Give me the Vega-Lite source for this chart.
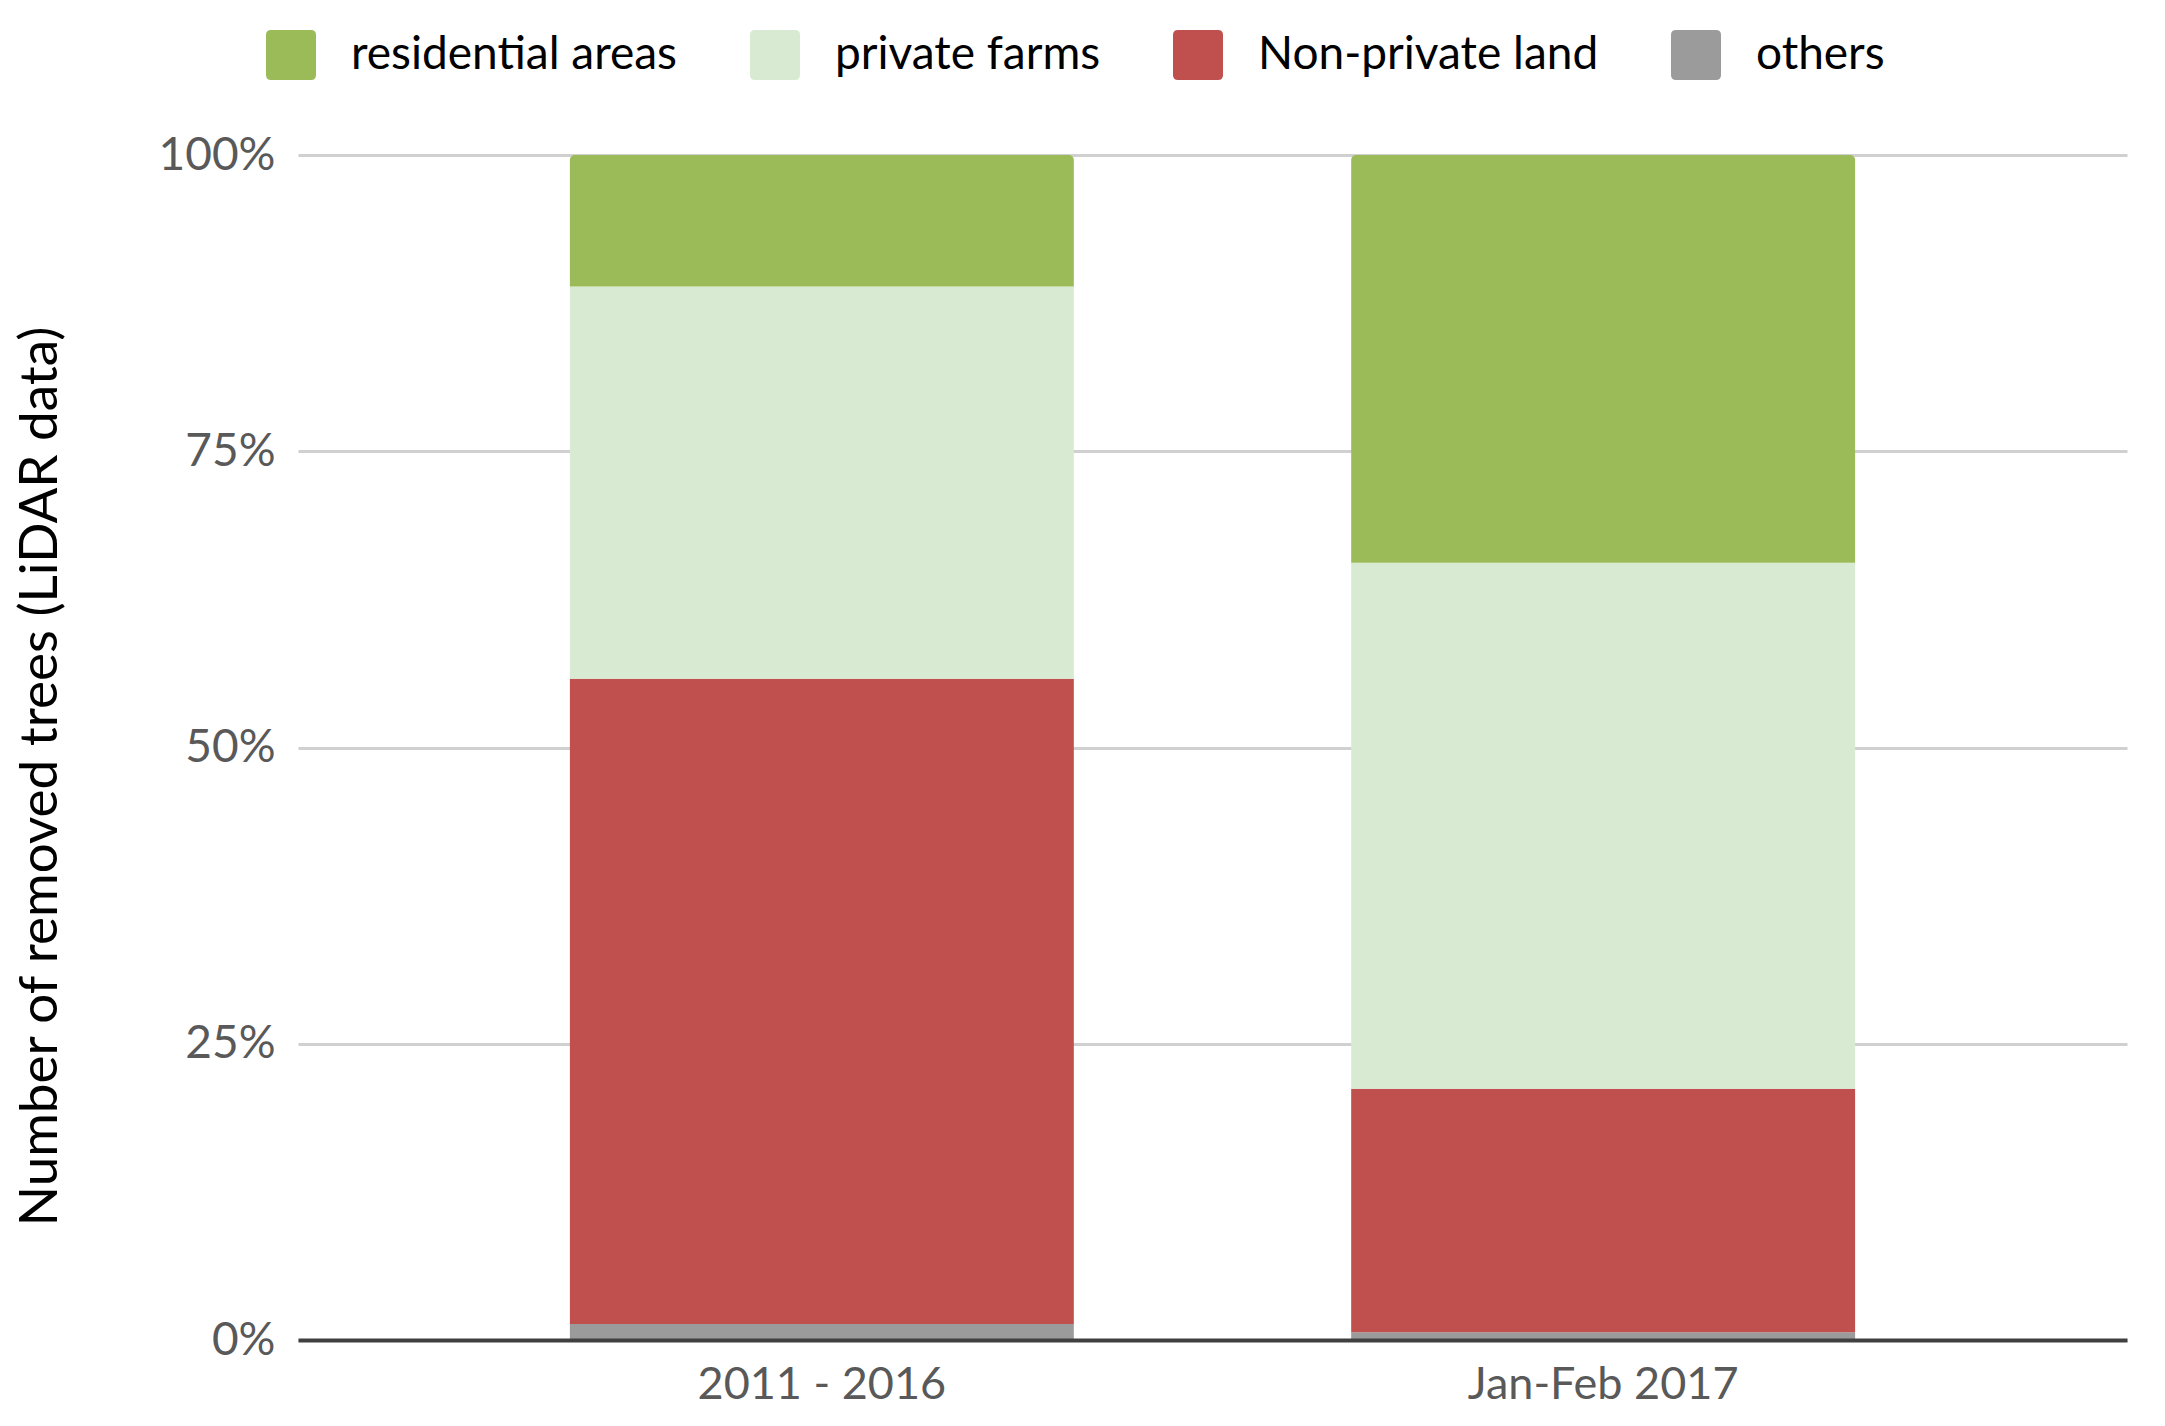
{
  "$schema": "https://vega.github.io/schema/vega-lite/v6.json",
  "width": 1829,
  "height": 1185,
  "autosize": "none",
  "padding": {"left": 298, "top": 155, "right": 38, "bottom": 86},
  "background": "white",
  "config": {
    "font": "Lato",
    "view": {"stroke": null}
  },
  "data": {
    "values": [
      {"period": "2011 - 2016", "category": "others", "rank": 1, "share": 1.35},
      {"period": "2011 - 2016", "category": "Non-private land", "rank": 2, "share": 54.45},
      {"period": "2011 - 2016", "category": "private farms", "rank": 3, "share": 33.1},
      {"period": "2011 - 2016", "category": "residential areas", "rank": 4, "share": 11.1},
      {"period": "Jan-Feb 2017", "category": "others", "rank": 1, "share": 0.65},
      {"period": "Jan-Feb 2017", "category": "Non-private land", "rank": 2, "share": 20.55},
      {"period": "Jan-Feb 2017", "category": "private farms", "rank": 3, "share": 44.4},
      {"period": "Jan-Feb 2017", "category": "residential areas", "rank": 4, "share": 34.4}
    ]
  },
  "transform": [
    {
      "stack": "share",
      "groupby": ["period"],
      "sort": [{"field": "rank", "order": "ascending"}],
      "as": ["y0", "y1"]
    }
  ],
  "encoding": {
    "x": {
      "field": "period",
      "type": "nominal",
      "sort": ["2011 - 2016", "Jan-Feb 2017"],
      "scale": {"paddingInner": 0.355, "paddingOuter": 0.348},
      "axis": {
        "title": null,
        "labelAngle": 0,
        "labelFontSize": 45,
        "labelColor": "#595959",
        "labelPadding": 22,
        "labelLimit": 800,
        "ticks": false,
        "domain": true,
        "domainColor": "#404040",
        "domainWidth": 4,
        "zindex": 1
      }
    },
    "y": {
      "field": "y0",
      "type": "quantitative",
      "scale": {"domain": [0, 100]},
      "axis": {
        "values": [0, 25, 50, 75, 100],
        "labelExpr": "datum.value + '%'",
        "labelFontSize": 46,
        "labelColor": "#595959",
        "labelPadding": 23,
        "ticks": false,
        "domain": false,
        "grid": true,
        "gridColor": "#d0d0d0",
        "gridWidth": 3,
        "title": "Number of removed trees (LiDAR data)",
        "titleFontSize": 53,
        "titleFontWeight": "normal",
        "titleColor": "#000000",
        "titleX": -231,
        "titleY": 621,
        "titleLimit": 1400
      }
    },
    "y2": {"field": "y1"},
    "color": {
      "field": "category",
      "type": "nominal",
      "scale": {
        "domain": ["residential areas", "private farms", "Non-private land", "others"],
        "range": ["#9bbb59", "#d9ead3", "#c0504d", "#9b9b9b"]
      },
      "legend": {
        "title": null,
        "orient": "none",
        "legendX": -32,
        "legendY": -125,
        "direction": "horizontal",
        "columns": 4,
        "symbolType": "M -0.8 -1 L 0.8 -1 Q 1 -1 1 -0.8 L 1 0.8 Q 1 1 0.8 1 L -0.8 1 Q -1 1 -1 0.8 L -1 -0.8 Q -1 -1 -0.8 -1 Z",
        "symbolSize": 2500,
        "symbolStrokeWidth": 0,
        "labelFontSize": 46,
        "labelColor": "#000000",
        "labelOffset": 35,
        "columnPadding": 72,
        "labelLimit": 600
      }
    }
  },
  "layer": [
    {
      "transform": [{"filter": "datum.category !== 'residential areas'"}],
      "mark": {"type": "bar"}
    },
    {
      "transform": [{"filter": "datum.category === 'residential areas'"}],
      "mark": {"type": "bar", "cornerRadiusTopLeft": 5, "cornerRadiusTopRight": 5}
    }
  ]
}
